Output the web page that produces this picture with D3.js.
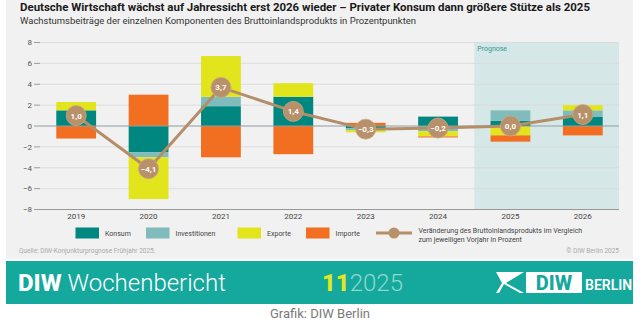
<!DOCTYPE html>
<html>
<head>
<meta charset="utf-8">
<script src="https://cdn.jsdelivr.net/npm/d3@7"></script>
<style>
  body { margin: 0; background: #fff; }
  svg text { font-family: Roboto, "Open Sans", sans-serif; }
</style>
</head>
<body>
<div id="chart"></div>
<script>
var years = ["2019", "2020", "2021", "2022", "2023", "2024", "2025", "2026"];
var konsum = [1.5, -2.5, 1.9, 2.8, -0.2, 0.9, 0.5, 0.9];
var investitionen = [0.0, -0.5, 0.9, 0.0, -0.2, -0.5, 1.0, 0.6];
var exporte = [0.8, -4.0, 3.9, 1.3, -0.2, -0.5, -0.9, 0.5];
var importe = [-1.2, 3.0, -3.0, -2.7, 0.3, -0.1, -0.6, -0.9];
var bip = [1.0, -4.1, 3.7, 1.4, -0.3, -0.2, 0.0, 1.1];
var yTicks = [-8, -6, -4, -2, 0, 2, 4, 6, 8];
var prognoseYears = ["2025", "2026"];

var series = ["Konsum", "Investitionen", "Exporte", "Importe"];
var colors = {Konsum: "#00877f", Investitionen: "#80bcbb", Exporte: "#e2e41c", Importe: "#f26f21"};

var width = 640, height = 324;
var margin = {left: 40, right: 21, top: 42.5, bottom: 114.5};

var svg = d3.select("#chart").append("svg")
    .attr("width", width)
    .attr("height", height);

// grey panel behind the chart
svg.append("rect")
    .attr("x", 6).attr("y", 0)
    .attr("width", 627).attr("height", 259)
    .attr("fill", "#f1f1f1");

svg.append("text")
    .attr("x", 20).attr("y", 10.5)
    .attr("font-size", 10.5).attr("font-weight", "bold")
    .attr("fill", "#1a1a1a")
    .attr("textLength", 570).attr("lengthAdjust", "spacingAndGlyphs")
    .text("Deutsche Wirtschaft wächst auf Jahressicht erst 2026 wieder – Privater Konsum dann größere Stütze als 2025");

svg.append("text")
    .attr("x", 20).attr("y", 24)
    .attr("font-size", 9.5)
    .attr("fill", "#333")
    .attr("textLength", 396).attr("lengthAdjust", "spacingAndGlyphs")
    .text("Wachstumsbeiträge der einzelnen Komponenten des Bruttoinlandsprodukts in Prozentpunkten");

var x = d3.scaleBand()
    .domain(years)
    .range([margin.left, width - margin.right])
    .paddingInner(0.45)
    .paddingOuter(0.225);

var y = d3.scaleLinear()
    .domain([-8, 8])
    .range([height - margin.bottom, margin.top]);

// Prognose area
var pStart = x(prognoseYears[0]) - x.step() * x.paddingInner() / 2;
svg.append("rect")
    .attr("x", pStart).attr("y", y(8))
    .attr("width", x.range()[1] - pStart)
    .attr("height", y(-8) - y(8))
    .attr("fill", "#d6e7e7");

svg.append("text")
    .attr("x", pStart + 3).attr("y", y(8) + 8)
    .attr("font-size", 7).attr("fill", "#2e9a93")
    .text("Prognose");

// grid + y labels
var yAxis = svg.append("g").attr("class", "y-axis");
yAxis.selectAll("line.grid")
  .data(yTicks.filter(function(d) { return d !== 0 && d !== -8; }))
  .enter().append("line")
    .attr("class", "grid")
    .attr("x1", margin.left).attr("x2", width - margin.right)
    .attr("y1", function(d) { return y(d); })
    .attr("y2", function(d) { return y(d); })
    .attr("stroke", "#d8d8d8").attr("stroke-width", 0.8);

yAxis.selectAll("line.tick")
  .data(yTicks)
  .enter().append("line")
    .attr("class", "tick")
    .attr("x1", margin.left - 6).attr("x2", margin.left)
    .attr("y1", function(d) { return y(d); })
    .attr("y2", function(d) { return y(d); })
    .attr("stroke", "#888").attr("stroke-width", 0.8);

yAxis.selectAll("text")
  .data(yTicks)
  .enter().append("text")
    .attr("x", margin.left - 8)
    .attr("y", function(d) { return y(d) + 2.8; })
    .attr("text-anchor", "end")
    .attr("font-size", 8).attr("fill", "#555")
    .text(function(d) { return d < 0 ? "\u2212" + Math.abs(d) : d; });

// bottom axis line
svg.append("line")
    .attr("x1", margin.left).attr("x2", width - margin.right)
    .attr("y1", y(-8)).attr("y2", y(-8))
    .attr("stroke", "#999").attr("stroke-width", 1);

// stacked bars
var table = years.map(function(yr, i) {
  return {year: yr, Konsum: konsum[i], Investitionen: investitionen[i], Exporte: exporte[i], Importe: importe[i]};
});

var stack = d3.stack()
    .keys(series)
    .offset(d3.stackOffsetDiverging);

svg.append("g").selectAll("g")
  .data(stack(table))
  .enter().append("g")
    .attr("fill", function(d) { return colors[d.key]; })
  .selectAll("rect")
  .data(function(d) { return d; })
  .enter().append("rect")
    .attr("x", function(d) { return x(d.data.year); })
    .attr("width", x.bandwidth())
    .attr("y", function(d) { return y(Math.max(d[0], d[1])); })
    .attr("height", function(d) { return Math.abs(y(d[0]) - y(d[1])); });

// zero line
svg.append("line")
    .attr("x1", margin.left).attr("x2", width - margin.right)
    .attr("y1", y(0)).attr("y2", y(0))
    .attr("stroke", "#8d9ea3").attr("stroke-width", 1.2);

// x labels
svg.append("g").selectAll("text")
  .data(years)
  .enter().append("text")
    .attr("x", function(d) { return x(d) + x.bandwidth() / 2; })
    .attr("y", y(-8) + 9)
    .attr("text-anchor", "middle")
    .attr("font-size", 8).attr("fill", "#444")
    .text(function(d) { return d; });

// BIP line
var line = d3.line()
    .x(function(d, i) { return x(years[i]) + x.bandwidth() / 2; })
    .y(function(d) { return y(d); });

svg.append("path")
    .datum(bip)
    .attr("d", line)
    .attr("fill", "none")
    .attr("stroke", "#b48e68")
    .attr("stroke-width", 3);

var fmt = function(v) {
  var s = Math.abs(v).toFixed(1).replace(".", ",");
  return v < 0 ? "\u2212" + s : s;
};

var dots = svg.append("g").selectAll("g")
  .data(bip)
  .enter().append("g")
    .attr("transform", function(d, i) {
      return "translate(" + (x(years[i]) + x.bandwidth() / 2) + "," + y(d) + ")";
    });

dots.append("circle")
    .attr("r", 10)
    .attr("fill", "#b89069")
    .attr("stroke", "#c9a882").attr("stroke-width", 0.8);

dots.append("text")
    .attr("y", 3)
    .attr("text-anchor", "middle")
    .attr("font-size", 8).attr("font-weight", "bold")
    .attr("fill", "#fff")
    .text(fmt);

// legend
var legY = 233;
var legendItems = [
  {key: "Konsum", x: 75.5},
  {key: "Investitionen", x: 146},
  {key: "Exporte", x: 237.5},
  {key: "Importe", x: 306}
];
var legend = svg.append("g");
legend.selectAll("rect")
  .data(legendItems)
  .enter().append("rect")
    .attr("x", function(d) { return d.x; })
    .attr("y", legY - 5.5)
    .attr("width", 23.5).attr("height", 11)
    .attr("fill", function(d) { return colors[d.key]; });

legend.selectAll("text")
  .data(legendItems)
  .enter().append("text")
    .attr("x", function(d) { return d.x + 29.5; })
    .attr("y", legY + 2.5)
    .attr("font-size", 7).attr("fill", "#444")
    .text(function(d) { return d.key; });

legend.append("line")
    .attr("x1", 376).attr("x2", 412)
    .attr("y1", legY).attr("y2", legY)
    .attr("stroke", "#b48e68").attr("stroke-width", 3);
legend.append("circle")
    .attr("cx", 394).attr("cy", legY).attr("r", 5.5)
    .attr("fill", "#b89069");
legend.append("text")
    .attr("x", 418.5).attr("y", legY + 0)
    .attr("font-size", 7).attr("fill", "#444")
    .text("Veränderung des Bruttoinlandsprodukts im Vergleich");
legend.append("text")
    .attr("x", 418.5).attr("y", legY + 9)
    .attr("font-size", 7).attr("fill", "#444")
    .text("zum jeweiligen Vorjahr in Prozent");

// source line
svg.append("text")
    .attr("x", 19).attr("y", 253)
    .attr("font-size", 6.5).attr("fill", "#aaa")
    .text("Quelle: DIW-Konjunkturprognose Frühjahr 2025.");
svg.append("text")
    .attr("x", 619).attr("y", 253)
    .attr("text-anchor", "end")
    .attr("font-size", 6.5).attr("fill", "#aaa")
    .text("© DIW Berlin 2025");

// banner
svg.append("rect")
    .attr("x", 6).attr("y", 261)
    .attr("width", 627).attr("height", 43)
    .attr("fill", "#15a89c");

var brand = svg.append("text")
    .attr("x", 18).attr("y", 291)
    .attr("font-family", "'Open Sans', sans-serif")
    .attr("font-size", 24).attr("fill", "#fff");
brand.append("tspan").attr("font-weight", 800).text("DIW ");
brand.append("tspan").attr("font-weight", 300).text("Wochenbericht");

var issue = svg.append("text")
    .attr("x", 322).attr("y", 291)
    .attr("font-family", "'Open Sans', sans-serif")
    .attr("font-size", 24);
issue.append("tspan").attr("font-weight", 800).attr("fill", "#e4e81c").text("11");
issue.append("tspan").attr("font-weight", 300).attr("fill", "#8fd8cf").text("2025");

// DIW Berlin logo
var logo = svg.append("g").attr("transform", "translate(496,272)");
logo.append("path")
    .attr("d", "M0,0 L28,0 L10,11 L28,21 L24,21 L8,12 L3,21 L0,21 L6,11 Z")
    .attr("fill", "#fff");
logo.append("rect")
    .attr("x", 30).attr("y", 0).attr("width", 56).attr("height", 21)
    .attr("fill", "#fff");
logo.append("text")
    .attr("x", 58).attr("y", 18)
    .attr("text-anchor", "middle")
    .attr("font-family", "'Open Sans', sans-serif")
    .attr("font-weight", 800).attr("font-size", 20)
    .attr("fill", "#15a89c")
    .text("DIW");
logo.append("text")
    .attr("x", 89).attr("y", 17.5)
    .attr("font-family", "'Open Sans', sans-serif")
    .attr("font-weight", 600).attr("font-size", 14)
    .attr("fill", "#fff")
    .text("BERLIN");

svg.append("text")
    .attr("x", 320).attr("y", 318)
    .attr("text-anchor", "middle")
    .attr("font-family", "'Liberation Sans', Arial, sans-serif")
    .attr("font-size", 13).attr("fill", "#7a7a7a")
    .text("Grafik: DIW Berlin");
</script>
</body>
</html>
